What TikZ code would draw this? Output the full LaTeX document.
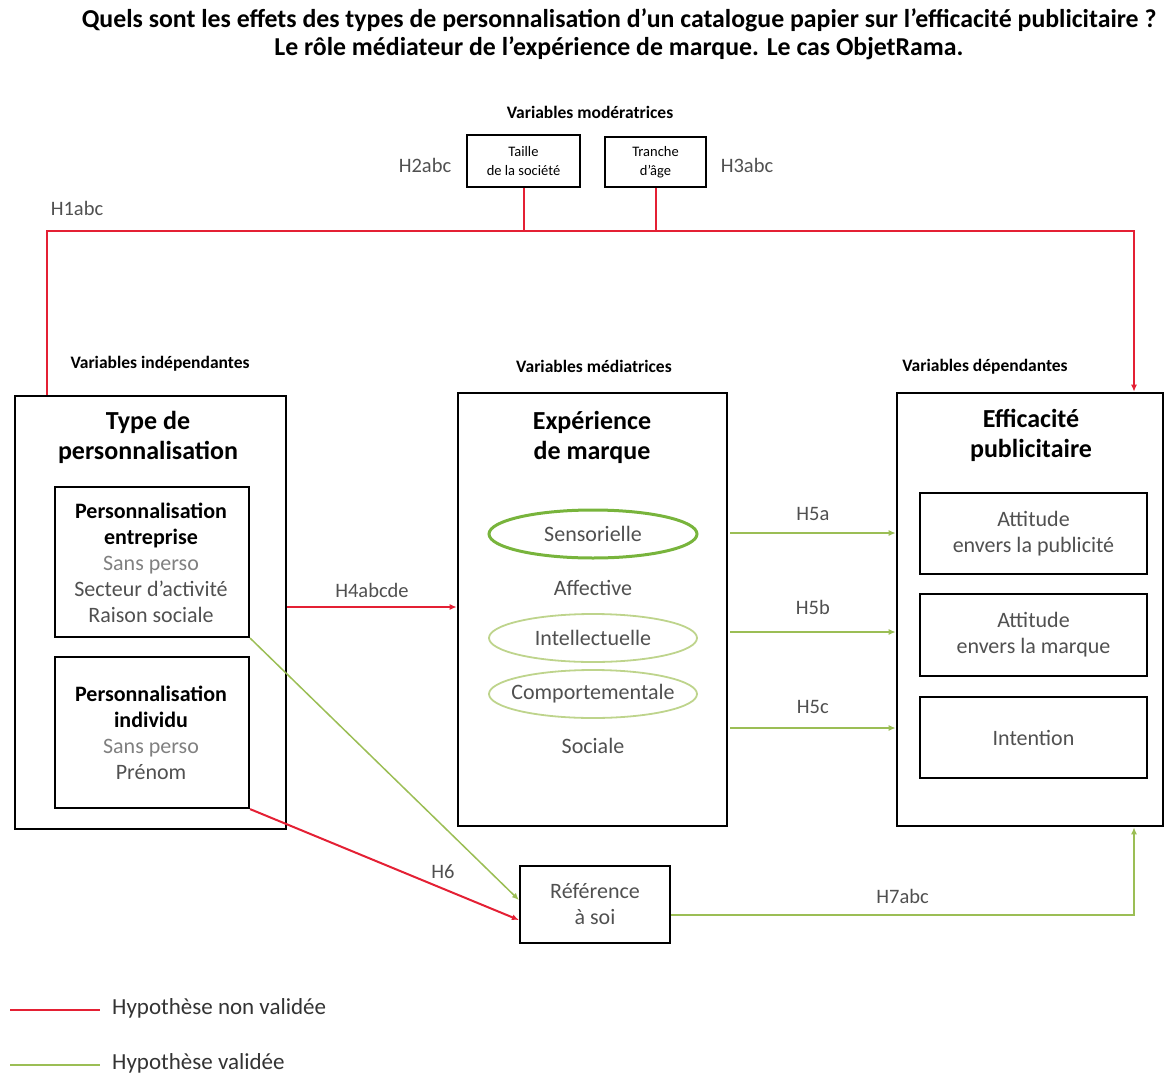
\documentclass[tikz,border=0pt]{standalone}
\usepackage{fontspec}
\setmainfont{Carlito}
\usetikzlibrary{arrows.meta,shapes.geometric}
\definecolor{hred}{RGB}{228,32,52}
\definecolor{hgreen}{RGB}{155,190,85}
\definecolor{ellgreen}{RGB}{120,180,60}
\definecolor{ellpale}{RGB}{190,212,140}
\definecolor{txtgray}{RGB}{80,80,80}
\begin{document}
\begin{tikzpicture}[x=1pt,y=-1pt,
  bigbox/.style={draw=black,line width=2.6pt,inner sep=0pt},
  smallbox/.style={draw=black,line width=2.2pt,inner sep=0pt},
  head/.style={font=\fontsize{26}{30}\selectfont\bfseries,align=center},
  colcap/.style={font=\fontsize{17.5}{20}\selectfont\bfseries},
  hlab/.style={font=\fontsize{20.5}{22}\selectfont,text=txtgray,inner sep=0pt},
  item/.style={font=\fontsize{22}{26}\selectfont,align=center,text=txtgray},
  ell/.style={ellipse,minimum width=208pt,minimum height=48pt,inner sep=0pt},
  notvalid/.style={draw=hred,line width=2pt},
  valid/.style={draw=hgreen,line width=1.8pt},
  tip/.style={-{Latex[length=7pt,width=6pt]}}]
\useasboundingbox (0,0) rectangle (1165,1076);

% title
\node[font=\fontsize{25.8}{28}\selectfont\bfseries,align=center] (title) at (619,34)
  {Quels sont les effets des types de personnalisation d'un catalogue papier sur l'efficacité publicitaire ?\\
   Le rôle médiateur de l'expérience de marque. Le cas ObjetRama.};

% moderating variables
\node[colcap] (modcap) at (590,112) {Variables modératrices};
\node[smallbox,minimum width=113pt,minimum height=52pt,align=center,
  font=\fontsize{14.5}{19}\selectfont] (taille) at (523.5,161) {Taille\\de la société};
\node[smallbox,minimum width=101pt,minimum height=50pt,align=center,
  font=\fontsize{14.5}{19}\selectfont] (age) at (655.5,162) {Tranche\\d'âge};
\node[hlab] (h2) at (425,165) {H2abc};
\node[hlab] (h3) at (747,165) {H3abc};
\node[hlab] (h1) at (77,208) {H1abc};

% column captions
\node[colcap] (indcap) at (160,364) {Variables indépendantes};
\node[colcap] (medcap) at (594,366) {Variables médiatrices};
\node[colcap] (depcap) at (985,367) {Variables dépendantes};

% independent variables
\node[bigbox,minimum width=271pt,minimum height=433pt] (type) at (150.5,612.5) {};
\node[head] (typehead) at (148,437) {Type de\\personnalisation};
\node[smallbox,minimum width=194pt,minimum height=150pt] (entr) at (152,562) {};
\node[item] (entrtxt) at (151,563) {\textbf{\textcolor{black}{Personnalisation}}\\\textbf{\textcolor{black}{entreprise}}\\
  \textcolor{gray}{Sans perso}\\Secteur d'activité\\Raison sociale};
\node[smallbox,minimum width=194pt,minimum height=151pt] (indiv) at (152,732.5) {};
\node[item] (indivtxt) at (151,733) {\textbf{\textcolor{black}{Personnalisation}}\\\textbf{\textcolor{black}{individu}}\\
  \textcolor{gray}{Sans perso}\\Prénom};

% mediating variables
\node[bigbox,minimum width=269pt,minimum height=433pt] (exp) at (592.5,609.5) {};
\node[head] (exphead) at (592,437) {Expérience\\de marque};
\node[ell,draw=ellgreen,line width=3pt] (sens) at (593,534) {};
\node[item] (senstxt) at (sens) {Sensorielle};
\node[item] (aff) at (593,588) {Affective};
\node[ell,draw=ellpale,line width=1.8pt] (intel) at (593,638) {};
\node[item] (inteltxt) at (intel) {Intellectuelle};
\node[ell,draw=ellpale,line width=1.8pt] (comp) at (593,694) {};
\node[item] (comptxt) at (comp) {Comportementale};
\node[item] (soc) at (593,746) {Sociale};

% dependent variables
\node[bigbox,minimum width=266pt,minimum height=433pt] (eff) at (1030,609.5) {};
\node[head] (effhead) at (1031,435) {Efficacité\\publicitaire};
\node[smallbox,minimum width=227pt,minimum height=81pt,item] (attpub) at (1033.5,533.5) {Attitude\\envers la publicité};
\node[smallbox,minimum width=227pt,minimum height=82pt,item] (attmar) at (1033.5,635) {Attitude\\envers la marque};
\node[smallbox,minimum width=227pt,minimum height=81pt,item] (intent) at (1033.5,737.5) {Intention};

% self reference
\node[smallbox,minimum width=150pt,minimum height=77pt,item] (ref) at (595,904.5) {Référence\\à soi};

% H1: moderated path from the independent to the dependent box
\coordinate (h1l) at (47,231);
\coordinate (h1r) at (1134,231);
\draw[notvalid,tip] (type.north west -| h1l) -- (h1l) -- (h1r) -- (eff.north west -| h1r);
\draw[notvalid] (taille.south) -- (taille.south |- h1l);
\draw[notvalid] (age.south) -- (age.south |- h1l);

% H4
\draw[notvalid,tip] (type.east |- 0,607) -- node[hlab,yshift=17pt] (h4) {H4abcde} (exp.west |- 0,607);

% H5
\draw[valid,tip] (730,533) -- node[hlab,yshift=19pt] (h5a) {H5a} (eff.west |- 0,533);
\draw[valid,tip] (730,632) -- node[hlab,yshift=25pt] (h5b) {H5b} (eff.west |- 0,632);
\draw[valid,tip] (730,728) -- node[hlab,yshift=21pt] (h5c) {H5c} (eff.west |- 0,728);

% H6 and the link to self reference
\draw[valid,line width=1.5pt,tip] (entr.south east) -- (ref.west |- 0,900);
\draw[notvalid,tip] (indiv.south east) -- (ref.west |- 0,920);
\node[hlab] (h6) at (443,872) {H6};

% H7
\coordinate (h7c) at (1134,915);
\draw[valid,tip] (ref.east |- h7c) -- node[hlab,yshift=19pt,pos=0.5] (h7) {H7abc} (h7c) -- (eff.south west -| h7c);

% legend
\coordinate (l1a) at (10,1010); \coordinate (l1b) at (100,1010);
\coordinate (l2a) at (10,1065); \coordinate (l2b) at (100,1065);
\draw[notvalid] (l1a) -- (l1b);
\draw[valid] (l2a) -- (l2b);
\node[hlab,anchor=west,text=black!80,font=\fontsize{23}{25}\selectfont] (lnv) at (112,1008) {Hypothèse non validée};
\node[hlab,anchor=west,text=black!80,font=\fontsize{23}{25}\selectfont] (lv) at (112,1063) {Hypothèse validée};
\end{tikzpicture}
\end{document}
